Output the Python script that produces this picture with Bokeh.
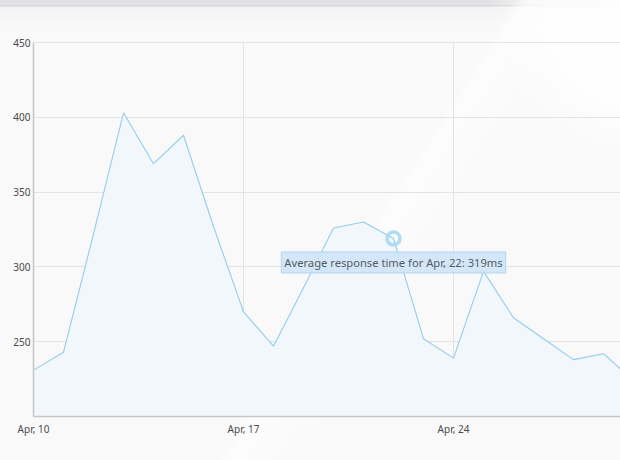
import pandas as pd
from bokeh.plotting import figure
from bokeh.models import Range1d, FixedTicker, DatetimeTickFormatter, Span, Label, ColumnDataSource
from bokeh.embed import file_html
from bokeh.resources import INLINE

# ---- data ----
dates = pd.date_range("2013-04-10", "2013-04-30", freq="D")
response_ms = [231, 243, 322, 403, 369, 388, 327, 270, 247, 286, 326, 330,
               319, 252, 239, 297, 266, 252, 238, 242, 224]
y_ticks = [250, 300, 350, 400, 450]
x_tick_dates = ["2013-04-10", "2013-04-17", "2013-04-24"]
hover_date = "2013-04-22"
hover_value = 319
tooltip_text = "Average response time for Apr, 22: 319ms"
y_start, y_end = 200, 450
x_end = "2013-04-29 13:36"

FONT = "Noto Sans"

src = ColumnDataSource(dict(x=dates, y=response_ms, base=[y_start] * len(response_ms)))

p = figure(width=620, height=460, x_axis_type="datetime",
           output_backend="svg", toolbar_location=None,
           x_range=Range1d(pd.Timestamp(x_tick_dates[0]), pd.Timestamp(x_end)),
           y_range=Range1d(y_start, y_end),
           min_border_left=33, min_border_right=0, min_border_top=42, min_border_bottom=44)

p.border_fill_alpha = 0
p.background_fill_alpha = 0
p.outline_line_color = None
p.styles = {
    "background": (
        "radial-gradient(ellipse 150px 160px at 640px 10px, rgba(255,255,255,0.95) 0%, "
        "rgba(255,255,255,0.8) 60%, rgba(255,255,255,0) 100%), "
        "linear-gradient(123deg, rgba(255,255,255,0) 0%, rgba(255,255,255,0) 56%, "
        "rgba(255,255,255,0.6) 57.5%, rgba(255,255,255,0) 66%, rgba(255,255,255,0) 100%), "
        "linear-gradient(to bottom, #e1e2e5 0px, #e3e4e6 5px, #d6d6d8 5px, #d6d6d8 6px, "
        "#f3f3f3 7px, #f9f9f9 28px, #f9f9f9 100%)"
    )
}

# area + line
p.varea(x="x", y1="base", y2="y", source=src, fill_color="#f2f7fc")
p.line(x="x", y="y", source=src, line_color="#92cdee", line_width=1.1)

# top border
p.add_layout(Span(location=y_ticks[-1], dimension="width", line_color="#cdcdcd", line_width=1))

# hover marker
p.scatter([pd.Timestamp(hover_date)], [hover_value], size=13, fill_color=None,
          line_color="#a9d6f3", line_width=3.5, line_alpha=0.9)

# tooltip
p.add_layout(Label(x=pd.Timestamp(hover_date), y=hover_value, y_offset=-24,
                   text=tooltip_text, text_align="center", text_baseline="middle",
                   text_font=FONT, text_font_size="11.2px", text_color="#555b62",
                   background_fill_color="#cfe4f7", background_fill_alpha=0.9,
                   border_line_color="#b3d3ef", border_line_width=1,
                   padding=3))

# axes
p.xaxis.ticker = FixedTicker(ticks=[pd.Timestamp(d).value / 1e6 for d in x_tick_dates])
p.xaxis.formatter = DatetimeTickFormatter(days="%b, %d", months="%b, %d", hours="%b, %d")
p.yaxis.ticker = FixedTicker(ticks=y_ticks)

for ax in (p.xaxis[0], p.yaxis[0]):
    ax.axis_line_color = "#c6c6c6"
    ax.axis_line_width = 1.5
    ax.major_tick_line_color = None
    ax.minor_tick_line_color = None
    ax.major_tick_out = 0
    ax.major_tick_in = 0
    ax.minor_tick_out = 0
    ax.major_label_text_font = FONT
    ax.major_label_text_font_size = "10px"
    ax.major_label_text_color = "#4a4a4a"
p.yaxis.major_label_standoff = 3
p.xaxis.major_label_standoff = 5

p.xgrid.grid_line_color = "#e3e3e3"
p.ygrid.grid_line_color = "#e3e3e3"

open("out.html", "w").write(file_html(p, INLINE))
